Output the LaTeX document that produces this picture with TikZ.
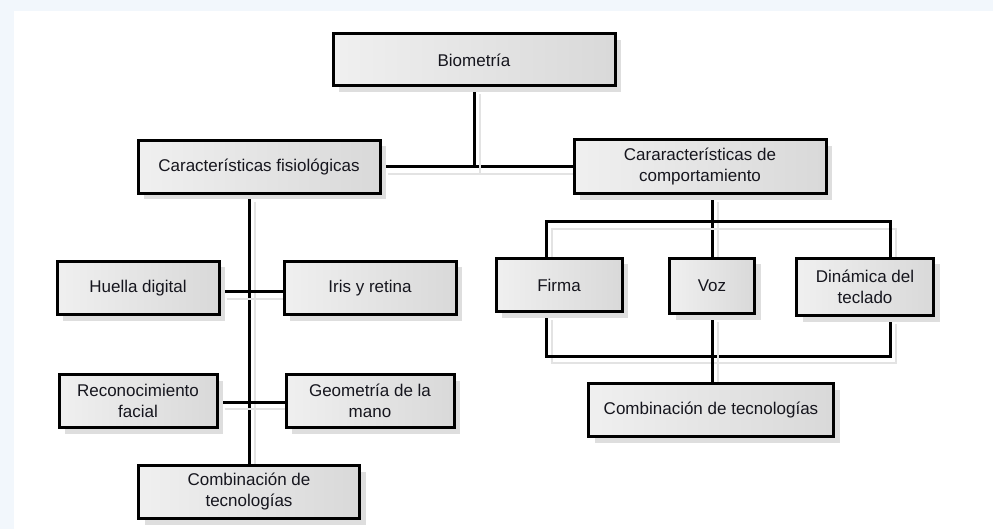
\documentclass[tikz,border=0pt]{standalone}
\usepackage{fontspec}
\setmainfont{Liberation Sans}
\usetikzlibrary{positioning,shadows}
\pgfdeclarelayer{back}
\pgfdeclarelayer{wires}
\pgfsetlayers{back,wires,main}

\definecolor{pagetint}{HTML}{F2F7FC}
\definecolor{inkgray}{HTML}{16161E}

\tikzset{
  blockbox/.style={draw, line width=3pt, left color=gray!12, right color=gray!30,
    align=center, text=inkgray, font=\fontsize{17}{21}\selectfont, inner sep=2pt,
    drop shadow={shadow xshift=6pt, shadow yshift=-6pt, fill=black!13, opacity=1}},
  wire/.style={line width=3pt,
    preaction={draw, line width=2.6pt, black!11, transform canvas={shift={(6pt,-7pt)}}}},
}

\begin{document}
\begin{tikzpicture}[x=1pt, y=-1pt]
  \useasboundingbox (0,0) rectangle (993,529);
  \begin{pgfonlayer}{back}
    \fill[pagetint] (0,0) rectangle (993,529);
    \fill[white] (14,11) rectangle (993,529);
  \end{pgfonlayer}

  % top level
  \node[blockbox, minimum width=282pt, minimum height=52pt] (bio) at (474,60) {Biometría};
  \node[blockbox, minimum width=242pt, minimum height=53pt] (fisio) at (259,167) {Características fisiológicas};
  \node[blockbox, minimum width=252pt, minimum height=54pt] (comport) at (700,167) {Cararacterísticas de\\comportamiento};

  % physiological branch
  \node[blockbox, minimum width=162pt, minimum height=53pt] (huella) at (138,288) {Huella digital};
  \node[blockbox, minimum width=172pt, minimum height=53pt] (iris) at (370,288) {Iris y retina};
  \node[blockbox, minimum width=158pt, minimum height=53pt] (recon) at (138,401) {Reconocimiento\\facial};
  \node[blockbox, minimum width=168pt, minimum height=53pt] (geom) at (370,401) {Geometría de la\\mano};
  \node[blockbox, minimum width=221pt, minimum height=53pt] (combiz) at (249,492) {Combinación de\\tecnologías};

  % behavioural branch
  \node[blockbox, minimum width=126pt, minimum height=53pt] (firma) at (559,285) {Firma};
  \node[blockbox, minimum width=85pt, minimum height=55pt] (voz) at (712,286) {Voz};
  \node[blockbox, minimum width=137pt, minimum height=57pt] (dinam) at (865,287) {Dinámica del\\teclado};
  \node[blockbox, minimum width=245pt, minimum height=53pt] (combder) at (711,410) {Combinación de tecnologías};

  \coordinate (railtop) at (712,222);
  \coordinate (railbot) at (712,356);

  \begin{pgfonlayer}{wires}
    \draw[wire] (fisio.east) -- (comport.west);
    \draw[wire] (bio.south) -- (bio.south |- fisio.east);
    \draw[wire] (combiz.north |- fisio.south) -- (combiz.north);
    \draw[wire] ([yshift=-4pt]huella.east) -- ([yshift=-4pt]iris.west);
    \draw[wire] ([yshift=-1pt]recon.east) -- ([yshift=-1pt]geom.west);
    \draw[wire] (voz.north |- comport.south) -- (voz.north);
    \draw[wire] ([xshift=-13pt]firma.north) |- (railtop) -| ([xshift=25pt]dinam.north);
    \draw[wire] ([xshift=-13pt]firma.south) |- (railbot) -| ([xshift=25pt]dinam.south);
    \draw[wire] (voz.south) -- (voz.south |- combder.north);
  \end{pgfonlayer}
\end{tikzpicture}
\end{document}
